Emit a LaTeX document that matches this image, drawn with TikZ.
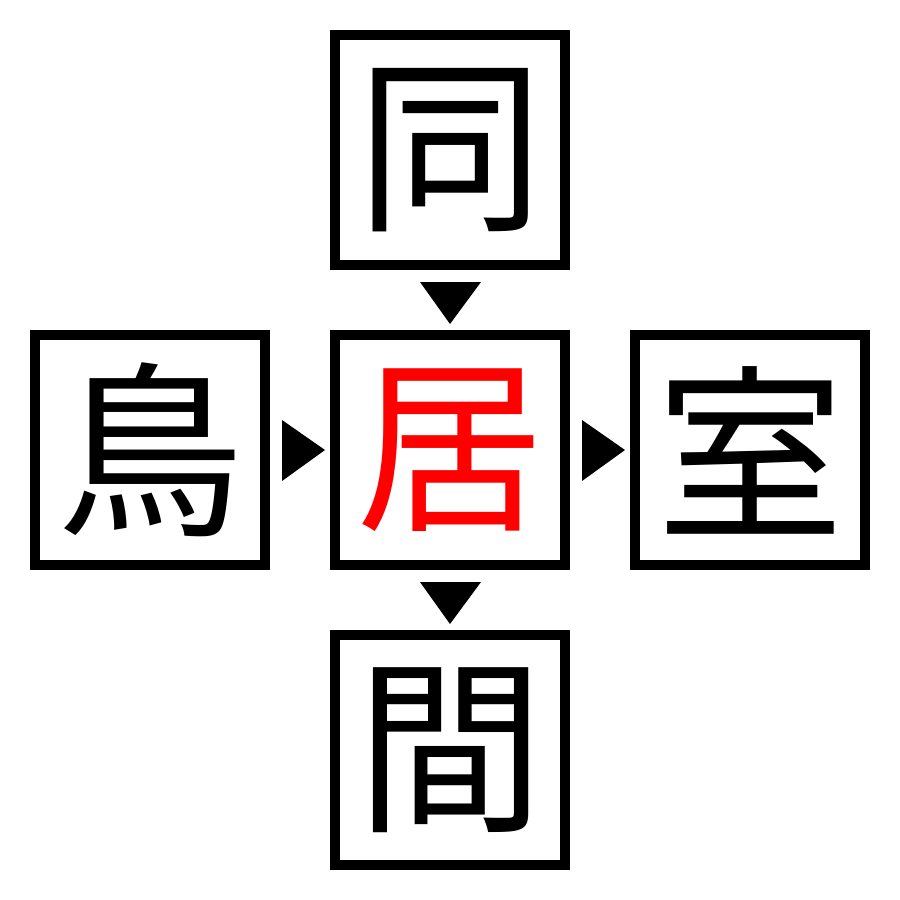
\documentclass[tikz,border=0pt]{standalone}
\usepackage{fontspec}
\newfontfamily\cjk{Noto Sans CJK JP}
\begin{document}
\begin{tikzpicture}[x=1pt,y=-1pt,
  kbox/.style={draw=black,line width=10pt,minimum size=230pt,inner sep=0pt,font=\cjk\fontsize{188}{188}\selectfont},
  tri/.style={fill=black,draw=none}]
\useasboundingbox (0,0) rectangle (900,900);
\node[kbox] (top) at (450,150) {同};
\node[kbox] (left) at (150,450) {鳥};
\node[kbox,text=red] (mid) at (450,450) {居};
\node[kbox] (right) at (750,450) {室};
\node[kbox] (bot) at (450,750) {間};
\fill[tri] ([shift={(-30,12)}]top.south) -- ([shift={(31,12)}]top.south) -- ([shift={(0,54)}]top.south) -- cycle;
\fill[tri] ([shift={(12,-30)}]left.east) -- ([shift={(12,31)}]left.east) -- ([shift={(55,0)}]left.east) -- cycle;
\fill[tri] ([shift={(12,-30)}]mid.east) -- ([shift={(12,31)}]mid.east) -- ([shift={(55,0)}]mid.east) -- cycle;
\fill[tri] ([shift={(-30,12)}]mid.south) -- ([shift={(31,12)}]mid.south) -- ([shift={(0,54)}]mid.south) -- cycle;
\end{tikzpicture}
\end{document}
